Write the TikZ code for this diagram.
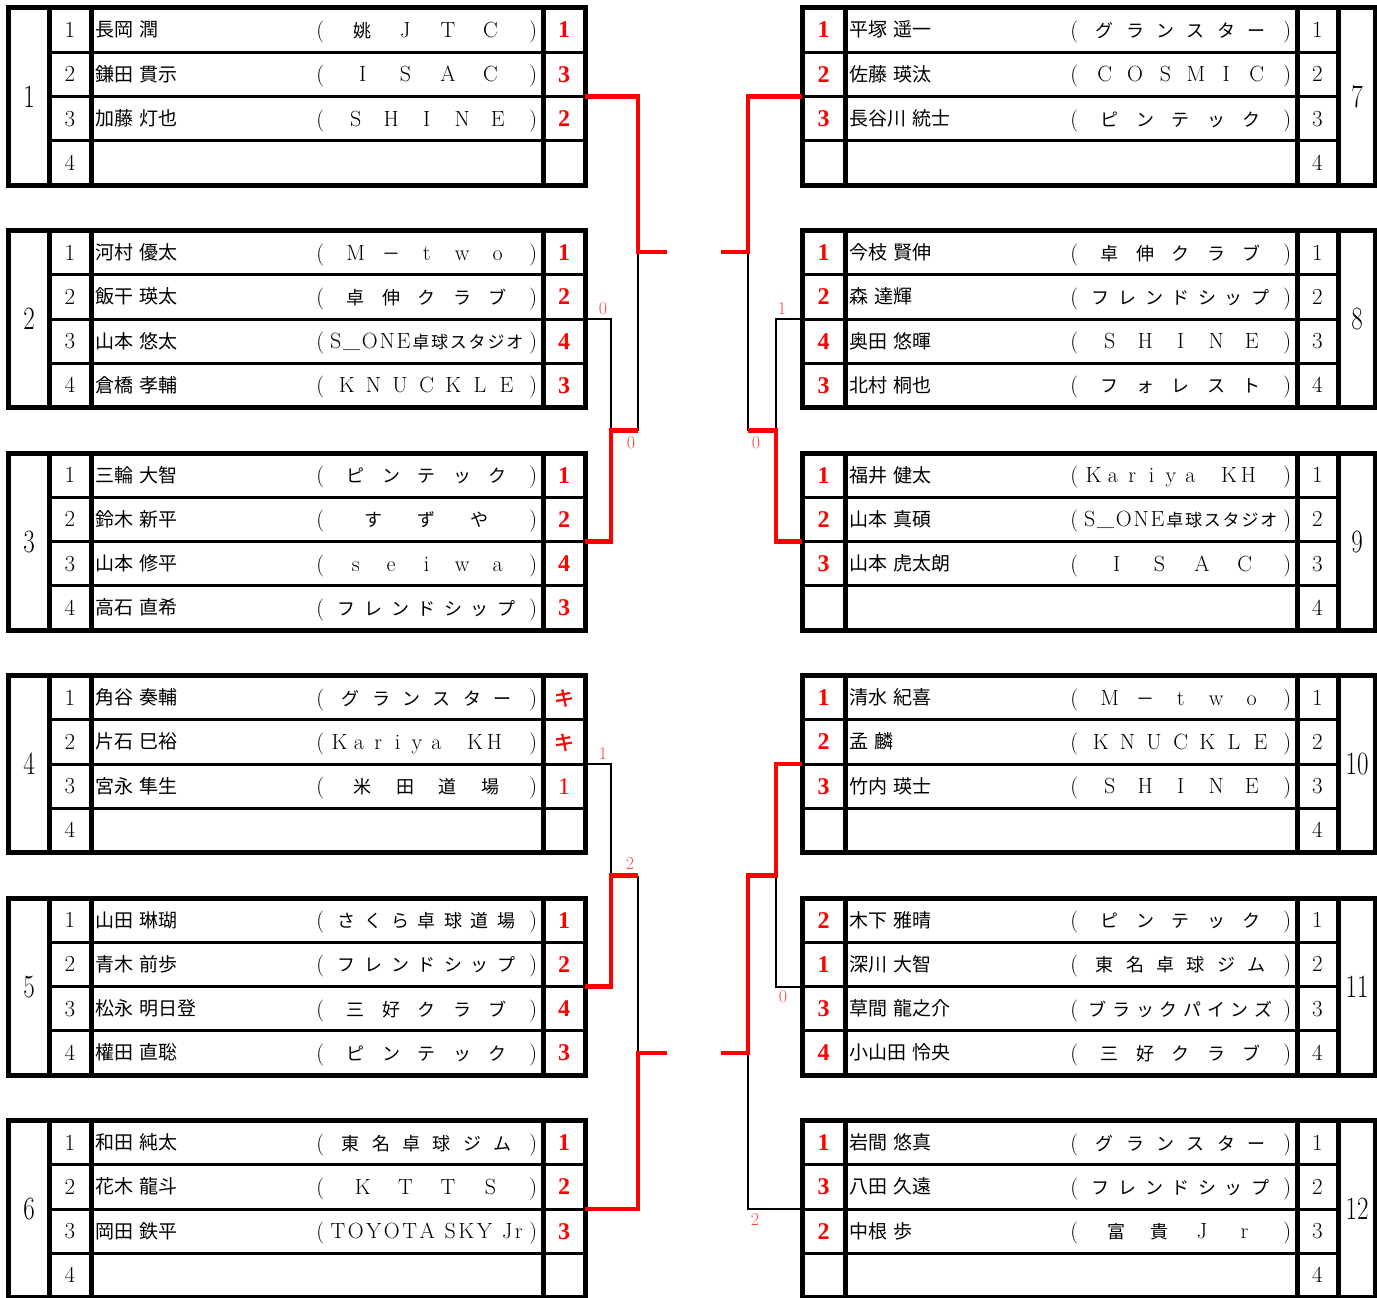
\documentclass[tikz,border=0pt]{standalone}
\usepackage{fontspec}
\usepackage{graphicx}
\setmainfont{Latin Modern Roman}
\newfontfamily\jp{Noto Sans CJK JP}
\newfontfamily\jpb[FakeBold=2]{Noto Sans CJK JP}
\newfontfamily\resfont{Liberation Serif}
\definecolor{resred}{RGB}{255,0,0}
\definecolor{lblred}{RGB}{255,70,70}
\def\tcj{18}
\newcommand\nmfont{\jp\fontsize{19}{22}\selectfont\spaceskip 6pt\relax}
\def\pc#1{\ifnum`#1>"2FFF {\jp\fontsize{\tcj}{20}\selectfont #1}\else #1\fi}
% equal-pitch spread of the characters between the brackets
\newcommand\tsp[1]{\hbox to 229pt{\makebox[16pt]{(}\tspA#1\relax\hfill\makebox[16pt]{)}}}
\def\tspA#1{\ifx#1\relax\else\tspB{#1}\expandafter\tspA\fi}
\def\tspB#1{\hfill\makebox[16pt]{\ifx#1|\else\pc{#1}\fi}}
% tight text with small even gaps
\newcommand\ttight[1]{\hbox to 229pt{\makebox[16pt]{(}\ttA#1\relax\hfil\makebox[16pt]{)}}}
\def\ttA#1{\ifx#1\relax\else\ttB{#1}\expandafter\ttA\fi}
\def\ttB#1{\hfil\ifx#1|\hfil\hfil\else\pc{#1}\fi}
\newcommand\gnumtxt[1]{\scalebox{1}[1.3]{#1}}
\tikzset{
  gframe/.style={line width=5pt},
  growl/.style={line width=3pt},
  blk/.style={line width=2pt, draw=black},
  win/.style={line width=4.5pt, draw=resred},
  xgnum/.style={anchor=base, inner sep=0pt, font={\fontsize{25}{30}\selectfont}},
  xrank/.style={anchor=base, inner sep=0pt, font={\fontsize{23}{26}\selectfont}},
  xname/.style={anchor=base west, inner sep=0pt, font={\nmfont}},
  xteam/.style={anchor=base west, inner sep=0pt, font={\fontsize{22}{24}\selectfont}},
  xres/.style={anchor=base, inner sep=0pt, text=resred, font={\resfont\bfseries\fontsize{24}{26}\selectfont}},
  xlbl/.style={anchor=center, inner sep=0pt, text=lblred, font={\fontsize{18}{20}\selectfont}},
}
% left row: gid, row, rank, name, team, result
\newcommand\Lr[6]{%
  \node[xrank] (g#1r#2k) at (70,{29.5+44.25*#2}) {#3};
  \node[xname] (g#1r#2n) at (95,{29+44.25*#2}) {#4};
  \node[xteam] (g#1r#2t) at (312,{29.5+44.25*#2}) {#5};
  \node[xres]  (g#1r#2s) at (564,{30+44.25*#2}) {#6};
}
% right row: gid, row, result, name, team, rank
\newcommand\Rr[6]{%
  \node[xres]  (g#1r#2s) at (823.5,{30+44.25*#2}) {#3};
  \node[xname] (g#1r#2n) at (849,{29+44.25*#2}) {#4};
  \node[xteam] (g#1r#2t) at (1066,{29.5+44.25*#2}) {#5};
  \node[xrank] (g#1r#2k) at (1317.5,{29.5+44.25*#2}) {#6};
}
\newcommand\Lgroup[3]{%
  \begin{scope}[yshift=-#2pt]
    \draw[gframe] (8,0) rectangle (585,177);
    \draw[gframe] (49,0) -- (49,177) (91,0) -- (91,177) (543,0) -- (543,177);
    \draw[growl] (49,44.25) -- (585,44.25) (49,88.5) -- (585,88.5) (49,132.75) -- (585,132.75);
    \node[xgnum] (g#1) at (29,99) {\gnumtxt{#1}};
    \coordinate (g#1e) at (585,88.5);
    #3
  \end{scope}}
\newcommand\Rgroup[3]{%
  \begin{scope}[yshift=-#2pt]
    \draw[gframe] (802,0) rectangle (1375,177);
    \draw[gframe] (845,0) -- (845,177) (1297,0) -- (1297,177) (1338,0) -- (1338,177);
    \draw[growl] (802,44.25) -- (1338,44.25) (802,88.5) -- (1338,88.5) (802,132.75) -- (1338,132.75);
    \node[xgnum] (g#1) at (1357,99) {\gnumtxt{#1}};
    \coordinate (g#1e) at (802,88.5);
    #3
  \end{scope}}
\begin{document}
\begin{tikzpicture}[x=1pt,y=-1pt]
\useasboundingbox (0,0) rectangle (1377,1298);
% ---------- left side ----------
\Lgroup{1}{8}{
  \Lr{1}{0}{1}{長岡 潤}{\tsp{姚JTC}}{1}
  \Lr{1}{1}{2}{鎌田 貫示}{\tsp{ISAC}}{3}
  \Lr{1}{2}{3}{加藤 灯也}{\tsp{SHINE}}{2}
  \Lr{1}{3}{4}{}{}{}
}
\Lgroup{2}{230.5}{
  \Lr{2}{0}{1}{河村 優太}{\tsp{M－two}}{1}
  \Lr{2}{1}{2}{飯干 瑛太}{\tsp{卓伸クラブ}}{2}
  \Lr{2}{2}{3}{山本 悠太}{\def\tcj{17}\ttight{S＿ONE卓球スタジオ}}{4}
  \Lr{2}{3}{4}{倉橋 孝輔}{\tsp{KNUCKLE}}{3}
}
\Lgroup{3}{453}{
  \Lr{3}{0}{1}{三輪 大智}{\tsp{ピンテック}}{1}
  \Lr{3}{1}{2}{鈴木 新平}{\tsp{すずや}}{2}
  \Lr{3}{2}{3}{山本 修平}{\tsp{seiwa}}{4}
  \Lr{3}{3}{4}{高石 直希}{\tsp{フレンドシップ}}{3}
}
\Lgroup{4}{675.5}{
  \Lr{4}{0}{1}{角谷 奏輔}{\tsp{グランスター}}{\mdseries\jpb\fontsize{20}{22}\selectfont キ}
  \Lr{4}{1}{2}{片石 巳裕}{\tsp{Kariya|KH|}}{\mdseries\jpb\fontsize{20}{22}\selectfont キ}
  \Lr{4}{2}{3}{宮永 隼生}{\tsp{米田道場}}{\mdseries 1}
  \Lr{4}{3}{4}{}{}{}
}
\Lgroup{5}{898}{
  \Lr{5}{0}{1}{山田 琳瑚}{\tsp{さくら卓球道場}}{1}
  \Lr{5}{1}{2}{青木 前歩}{\tsp{フレンドシップ}}{2}
  \Lr{5}{2}{3}{松永 明日登}{\tsp{三好クラブ}}{4}
  \Lr{5}{3}{4}{權田 直聡}{\tsp{ピンテック}}{3}
}
\Lgroup{6}{1120.5}{
  \Lr{6}{0}{1}{和田 純太}{\tsp{東名卓球ジム}}{1}
  \Lr{6}{1}{2}{花木 龍斗}{\tsp{KTTS}}{2}
  \Lr{6}{2}{3}{岡田 鉄平}{\ttight{TOYOTA|SKY|Jr}}{3}
  \Lr{6}{3}{4}{}{}{}
}
% ---------- right side ----------
\Rgroup{7}{8}{
  \Rr{7}{0}{1}{平塚 遥一}{\tsp{グランスター}}{1}
  \Rr{7}{1}{2}{佐藤 瑛汰}{\tsp{COSMIC}}{2}
  \Rr{7}{2}{3}{長谷川 統士}{\tsp{ピンテック}}{3}
  \Rr{7}{3}{}{}{}{4}
}
\Rgroup{8}{230.5}{
  \Rr{8}{0}{1}{今枝 賢伸}{\tsp{卓伸クラブ}}{1}
  \Rr{8}{1}{2}{森 達輝}{\tsp{フレンドシップ}}{2}
  \Rr{8}{2}{4}{奥田 悠暉}{\tsp{SHINE}}{3}
  \Rr{8}{3}{3}{北村 桐也}{\tsp{フォレスト}}{4}
}
\Rgroup{9}{453}{
  \Rr{9}{0}{1}{福井 健太}{\tsp{Kariya|KH|}}{1}
  \Rr{9}{1}{2}{山本 真碩}{\def\tcj{17}\ttight{S＿ONE卓球スタジオ}}{2}
  \Rr{9}{2}{3}{山本 虎太朗}{\tsp{ISAC}}{3}
  \Rr{9}{3}{}{}{}{4}
}
\Rgroup{10}{675.5}{
  \Rr{10}{0}{1}{清水 紀喜}{\tsp{M－two}}{1}
  \Rr{10}{1}{2}{孟 麟}{\tsp{KNUCKLE}}{2}
  \Rr{10}{2}{3}{竹内 瑛士}{\tsp{SHINE}}{3}
  \Rr{10}{3}{}{}{}{4}
}
\Rgroup{11}{898}{
  \Rr{11}{0}{2}{木下 雅晴}{\tsp{ピンテック}}{1}
  \Rr{11}{1}{1}{深川 大智}{\tsp{東名卓球ジム}}{2}
  \Rr{11}{2}{3}{草間 龍之介}{\tsp{ブラックパインズ}}{3}
  \Rr{11}{3}{4}{小山田 怜央}{\tsp{三好クラブ}}{4}
}
\Rgroup{12}{1120.5}{
  \Rr{12}{0}{1}{岩間 悠真}{\tsp{グランスター}}{1}
  \Rr{12}{1}{3}{八田 久遠}{\tsp{フレンドシップ}}{2}
  \Rr{12}{2}{2}{中根 歩}{\tsp{富貴Jr}}{3}
  \Rr{12}{3}{}{}{}{4}
}
% ---------- bracket joints ----------
\coordinate (a1) at (611,430.5);
\coordinate (b1) at (638,252);
\coordinate (a2) at (611,875.5);
\coordinate (b2) at (638,1053);
\coordinate (c1) at (776,430.5);
\coordinate (d1) at (748,252);
\coordinate (c2) at (776,875.5);
\coordinate (d2) at (748,1053);
\coordinate (s1) at (667,252);
\coordinate (s2) at (667,1053);
\coordinate (s3) at (721,252);
\coordinate (s4) at (721,1053);
% black (losing) lines
\draw[blk] (g2e) -| (a1);
\draw[blk] (b1) -- (b1 |- a1);
\draw[blk] (g4e) -| (a2);
\draw[blk] (b2) -- (b2 |- a2);
\draw[blk] (g8e) -| (c1);
\draw[blk] (d1) -- (d1 |- c1);
\draw[blk] (g11e) -| (c2);
\draw[blk] (g12e) -| (d2);
% red (winning) lines
\draw[win] (g1e) -| (b1) -- (s1);
\draw[win] (g3e) -| (a1) -- (b1 |- a1);
\draw[win] (g5e) -| (a2) -- (b2 |- a2);
\draw[win] (g6e) -| (b2) -- (s2);
\draw[win] (g7e) -| (d1) -- (s3);
\draw[win] (g9e) -| (c1) -- (d1 |- c1);
\draw[win] (g10e) -| (c2) -- (d2 |- c2) -- (d2) -- (s4);
% score labels
\node[xlbl] (l1) at (603,309) {0};
\node[xlbl] (l2) at (631,442.5) {0};
\node[xlbl] (l3) at (782,309) {1};
\node[xlbl] (l4) at (756,442.5) {0};
\node[xlbl] (l5) at (603,754) {1};
\node[xlbl] (l6) at (630,864) {2};
\node[xlbl] (l7) at (783,997) {0};
\node[xlbl] (l8) at (755,1220) {2};
\end{tikzpicture}
\end{document}
